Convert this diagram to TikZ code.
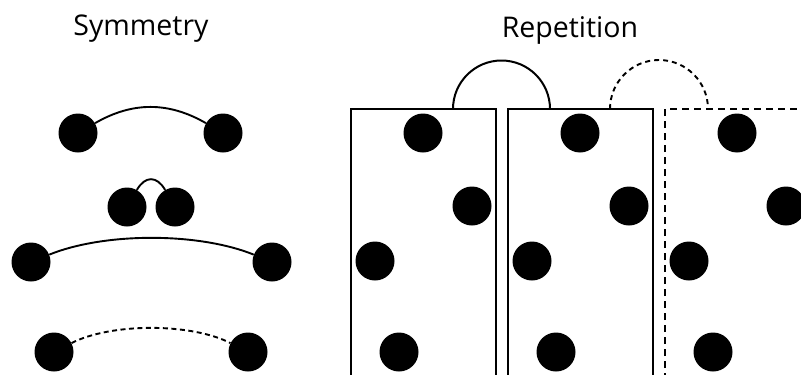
\documentclass[tikz,border=0pt]{standalone}
\usepackage{fontspec}
\setmainfont{Open Sans}
\begin{document}
\begin{tikzpicture}[x=1pt,y=-1pt,
  dot/.style={circle,fill=black,inner sep=0pt,minimum size=39pt},
  link/.style={line width=1.9pt},
  dlink/.style={line width=1.9pt,dash pattern=on 5pt off 3.5pt},
  frame/.style={line width=2pt},
  dframe/.style={line width=2pt,dash pattern=on 7pt off 5pt},
  title/.style={anchor=base,font=\fontsize{28.5}{31}\selectfont}]
\useasboundingbox (0,0) rectangle (801,375);
\clip (0,0) rectangle (801,375);
\fill[white] (0,0) rectangle (801,375);
% titles
\node[title] (tsym) at (141,35) {Symmetry};
\node[title] (trep) at (570,37) {Repetition};
% symmetry
\node[dot] (a1) at (78,133) {};
\node[dot] (b1) at (223,133) {};
\draw[link] (a1) to[bend left=30] (b1);
\node[dot] (a2) at (127,207) {};
\node[dot] (b2) at (175,207) {};
\draw[link] (a2) to[bend left=60,looseness=1.5] (b2);
\node[dot] (a3) at (31,262) {};
\node[dot] (b3) at (272,262) {};
\draw[link] (a3) to[bend left=22,looseness=0.75] (b3);
\node[dot] (a4) at (54,352) {};
\node[dot] (b4) at (248,352) {};
\draw[dlink] (a4) to[bend left=27,looseness=0.72] (b4);
% repetition frames
\draw[frame] (351,380) -- (351,109) -- (496,109) -- (496,380);
\draw[frame] (508,380) -- (508,109) -- (653,109) -- (653,380);
\draw[dframe] (665,380) -- (665,109) -- (810,109);
\draw[frame] (453,109) arc[start angle=180,end angle=360,radius=48.5];
\draw[link,dash pattern=on 5pt off 4pt] (610,109) arc[start angle=180,end angle=360,radius=49];
% dots in frames
\foreach \i/\dx in {1/0,2/157,3/314}{
  \node[dot] (r\i a) at (423+\dx,133) {};
  \node[dot] (r\i b) at (472+\dx,206) {};
  \node[dot] (r\i c) at (375+\dx,261) {};
  \node[dot] (r\i d) at (399+\dx,352) {};
}
\end{tikzpicture}
\end{document}
